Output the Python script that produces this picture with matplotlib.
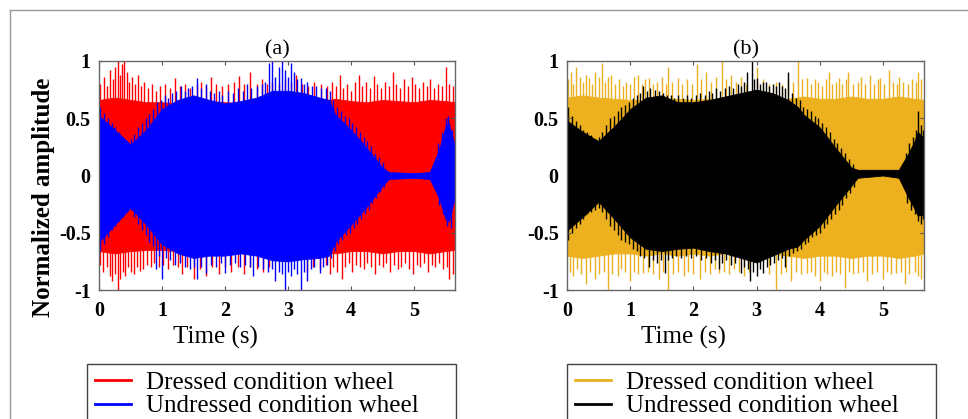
import numpy as np
import matplotlib.pyplot as plt
from matplotlib.lines import Line2D

plt.rcParams['font.family'] = ['Liberation Serif', 'DejaVu Serif']

# ---- dense core (envelope) of each signal ----
dressed_t = [0, 0.25, 0.5, 0.75, 1, 1.25, 1.5, 1.75, 2, 2.25, 2.5, 2.75, 3, 3.25,
             3.5, 3.75, 4, 4.25, 4.5, 4.75, 5, 5.25, 5.5, 5.65]
red_hi = [0.66, 0.68, 0.66, 0.64, 0.64, 0.63, 0.64, 0.65, 0.64, 0.63, 0.65, 0.65, 0.64, 0.65,
          0.65, 0.67, 0.65, 0.64, 0.66, 0.65, 0.64, 0.66, 0.65, 0.64]
red_lo = [-0.66, -0.68, -0.66, -0.65, -0.65, -0.66, -0.65, -0.66, -0.65, -0.66, -0.65, -0.66, -0.66, -0.65,
          -0.66, -0.68, -0.66, -0.66, -0.68, -0.66, -0.66, -0.68, -0.66, -0.65]
orange_hi = [0.68, 0.7, 0.68, 0.67, 0.66, 0.66, 0.67, 0.67, 0.66, 0.67, 0.67, 0.67, 0.66, 0.67,
             0.67, 0.69, 0.67, 0.67, 0.69, 0.67, 0.67, 0.69, 0.67, 0.66]
orange_lo = [-0.7, -0.72, -0.7, -0.68, -0.68, -0.7, -0.68, -0.7, -0.68, -0.7, -0.68, -0.7, -0.7, -0.68,
             -0.7, -0.72, -0.7, -0.7, -0.72, -0.7, -0.7, -0.72, -0.7, -0.68]

undressed_t = [0, 0.25, 0.5, 0.75, 1, 1.25, 1.5, 1.75, 2, 2.25, 2.5, 2.75, 3, 3.25, 3.5,
               3.65, 3.75, 4, 4.25, 4.5, 4.6, 5.0, 5.25, 5.4, 5.5, 5.55, 5.65]
blue_hi = [0.52, 0.4, 0.27, 0.4, 0.58, 0.66, 0.7, 0.66, 0.63, 0.65, 0.68, 0.74, 0.74, 0.72, 0.68,
           0.66, 0.53, 0.4, 0.24, 0.07, 0.03, 0.02, 0.03, 0.23, 0.43, 0.46, 0.25]
blue_lo = [-0.58, -0.43, -0.28, -0.43, -0.6, -0.68, -0.72, -0.7, -0.7, -0.68, -0.7, -0.74, -0.75, -0.73, -0.72,
           -0.7, -0.58, -0.43, -0.27, -0.09, -0.03, -0.02, -0.03, -0.2, -0.38, -0.4, -0.19]
black_hi = [0.48, 0.38, 0.3, 0.43, 0.58, 0.68, 0.7, 0.64, 0.64, 0.66, 0.69, 0.72, 0.75, 0.72, 0.66,
            0.6, 0.53, 0.42, 0.24, 0.07, 0.05, 0.05, 0.05, 0.19, 0.3, 0.38, 0.33]
black_lo = [-0.48, -0.36, -0.23, -0.38, -0.54, -0.64, -0.66, -0.64, -0.63, -0.66, -0.68, -0.72, -0.76, -0.7, -0.64,
            -0.62, -0.56, -0.44, -0.26, -0.09, -0.02, 0.0, -0.02, -0.19, -0.29, -0.35, -0.34]

# ---- individual peaks at the fringe of each band ----
red_up_t = [0.02, 0.08, 0.12, 0.17, 0.22, 0.26, 0.30, 0.33, 0.37, 0.40, 0.44, 0.48, 0.52, 0.57, 0.62, 0.67,
            0.72, 0.78, 0.84, 0.90, 0.97, 1.04, 1.12, 1.2, 1.28, 1.36, 1.45, 1.55, 1.62, 1.7, 1.78, 1.86,
            1.95, 2.05, 2.15, 2.22, 2.3, 2.4, 2.5, 2.58, 2.66, 2.75, 2.85, 2.95, 3.05, 3.12, 3.22, 3.32,
            3.42, 3.52, 3.62, 3.7, 3.76, 3.82, 3.88, 3.94, 4.0, 4.06, 4.12, 4.18, 4.24, 4.3, 4.36, 4.42,
            4.48, 4.54, 4.6, 4.66, 4.72, 4.78, 4.84, 4.9, 4.96, 5.02, 5.08, 5.14, 5.2, 5.26, 5.32, 5.38,
            5.44, 5.5, 5.56, 5.62]
red_up_v = [0.80, 0.86, 0.78, 0.92, 0.84, 0.95, 1.0, 0.88, 0.97, 1.0, 0.9, 0.82, 0.86, 0.8, 0.88, 0.78,
            0.82, 0.76, 0.8, 0.74, 0.78, 0.8, 0.76, 0.85, 0.78, 0.8, 0.76, 0.8, 0.82, 0.78, 0.86, 0.8,
            0.78, 0.8, 0.82, 0.87, 0.8, 0.9, 0.8, 0.84, 0.8, 0.82, 0.8, 0.84, 0.82, 0.88, 0.8, 0.78,
            0.82, 0.8, 0.78, 0.82, 0.78, 0.88, 0.76, 0.8, 0.74, 0.82, 0.88, 0.78, 0.82, 0.76, 0.87, 0.8,
            0.76, 0.82, 0.78, 0.9, 0.8, 0.76, 0.84, 0.78, 0.86, 0.8, 0.76, 0.82, 0.78, 0.84, 0.76, 0.8,
            0.78, 0.95, 0.8, 0.78]
red_dn_t = [0.02, 0.07, 0.12, 0.17, 0.21, 0.26, 0.30, 0.34, 0.38, 0.42, 0.46, 0.5, 0.55, 0.6, 0.65, 0.7,
            0.76, 0.82, 0.88, 0.95, 1.02, 1.1, 1.18, 1.26, 1.32, 1.4, 1.5, 1.6, 1.7, 1.8, 1.9, 2.0, 2.1,
            2.2, 2.3, 2.4, 2.5, 2.6, 2.7, 3.3, 3.4, 3.5, 3.6, 3.66, 3.72, 3.78, 3.85, 3.9, 3.96, 4.02,
            4.08, 4.14, 4.2, 4.26, 4.32, 4.38, 4.44, 4.5, 4.56, 4.62, 4.68, 4.74, 4.8, 4.86, 4.92, 4.98,
            5.04, 5.1, 5.16, 5.22, 5.28, 5.34, 5.4, 5.46, 5.52, 5.56, 5.62]
red_dn_v = [-0.78, -0.84, -0.8, -0.88, -0.92, -0.86, -1.0, -0.9, -0.84, -0.88, -0.8, -0.84, -0.86, -0.8, -0.83,
            -0.82, -0.78, -0.8, -0.76, -0.8, -0.78, -0.82, -0.78, -0.8, -0.86, -0.8, -0.9, -0.82, -0.88,
            -0.8, -0.86, -0.8, -0.84, -0.8, -0.86, -0.8, -0.82, -0.84, -0.8, -0.84, -0.8, -0.82, -0.78,
            -0.86, -0.8, -0.84, -0.9, -0.8, -0.76, -0.84, -0.78, -0.8, -0.82, -0.76, -0.8, -0.86, -0.78,
            -0.8, -0.76, -0.84, -0.78, -0.82, -0.8, -0.76, -0.82, -0.86, -0.78, -0.8, -0.76, -0.84, -0.78,
            -0.8, -0.76, -0.82, -0.8, -0.9, -0.86]
blue_up_t = [0.02, 0.08, 0.14, 0.2, 0.26, 0.32, 0.38, 0.44, 0.5, 0.56, 0.62, 0.68, 0.74, 0.8, 0.86, 0.92,
             0.98, 1.04, 1.1, 1.16, 1.22, 1.3, 1.36, 1.42, 1.48, 1.55, 1.62, 1.7, 1.76, 1.82, 1.9, 1.96,
             2.04, 2.12, 2.2, 2.28, 2.35, 2.42, 2.5, 2.58, 2.64, 2.7, 2.75, 2.8, 2.85, 2.9, 2.95, 3.0,
             3.05, 3.1, 3.15, 3.2, 3.25, 3.3, 3.38, 3.45, 3.52, 3.6, 3.66, 3.72, 3.78, 3.84, 3.9, 3.96,
             4.02, 4.08, 4.14, 4.2, 4.26, 4.32, 4.38, 4.44, 4.5, 5.38, 5.44, 5.5, 5.54, 5.6]
blue_up_v = [0.6, 0.55, 0.5, 0.46, 0.42, 0.38, 0.34, 0.3, 0.32, 0.36, 0.42, 0.46, 0.5, 0.54, 0.58, 0.64,
             0.66, 0.7, 0.68, 0.72, 0.74, 0.78, 0.74, 0.76, 0.78, 0.85, 0.76, 0.8, 0.74, 0.72, 0.74, 0.7,
             0.74, 0.72, 0.76, 0.74, 0.8, 0.76, 0.78, 0.8, 0.82, 0.98, 1.0, 0.86, 0.95, 1.0, 0.92, 0.86,
             0.98, 0.9, 0.84, 0.85, 0.8, 0.82, 0.78, 0.78, 0.76, 0.76, 0.74, 0.66, 0.6, 0.56, 0.52, 0.5,
             0.46, 0.42, 0.38, 0.34, 0.3, 0.26, 0.2, 0.16, 0.12, 0.28, 0.38, 0.5, 0.52, 0.4]
blue_dn_t = [0.02, 0.08, 0.14, 0.2, 0.26, 0.32, 0.38, 0.44, 0.5, 0.56, 0.62, 0.68, 0.74, 0.8, 0.86, 0.9,
             0.96, 1.0, 1.06, 1.12, 1.2, 1.28, 1.36, 1.44, 1.5, 1.55, 1.62, 1.7, 1.78, 1.86, 1.94, 2.0,
             2.08, 2.16, 2.24, 2.32, 2.4, 2.45, 2.52, 2.6, 2.68, 2.74, 2.8, 2.86, 2.9, 2.95, 3.0, 3.05,
             3.1, 3.15, 3.2, 3.25, 3.3, 3.36, 3.42, 3.5, 3.56, 3.62, 3.68, 3.74, 3.8, 3.86, 3.92, 3.98,
             4.04, 4.1, 4.16, 4.22, 4.28, 4.34, 4.4, 4.46, 4.52, 5.4, 5.46, 5.52, 5.58]
blue_dn_v = [-0.66, -0.6, -0.54, -0.48, -0.44, -0.4, -0.36, -0.32, -0.3, -0.36, -0.42, -0.48, -0.52, -0.58,
             -0.62, -0.82, -0.7, -0.9, -0.72, -0.74, -0.78, -0.76, -0.8, -0.82, -0.8, -0.9, -0.8, -0.85,
             -0.78, -0.8, -0.76, -0.85, -0.78, -0.76, -0.8, -0.78, -0.8, -0.88, -0.8, -0.82, -0.84, -0.82,
             -0.92, -0.84, -0.86, -1.0, -0.84, -0.88, -0.82, -0.86, -1.0, -0.84, -0.92, -0.82, -0.8, -0.85,
             -0.8, -0.78, -0.72, -0.66, -0.6, -0.56, -0.52, -0.5, -0.46, -0.42, -0.38, -0.34, -0.3, -0.24,
             -0.2, -0.14, -0.1, -0.26, -0.34, -0.44, -0.46]

orange_up_t = [0.02, 0.06, 0.1, 0.15, 0.2, 0.25, 0.3, 0.35, 0.4, 0.45, 0.5, 0.55, 0.6, 0.65, 0.7, 0.76,
               0.82, 0.88, 0.94, 1.0, 1.06, 1.12, 1.18, 1.24, 1.3, 1.36, 1.42, 1.5, 1.56, 1.6, 1.66, 1.75,
               1.82, 1.9, 1.98, 2.05, 2.12, 2.2, 2.28, 2.36, 2.45, 2.52, 2.6, 2.68, 2.76, 2.84, 3.0, 3.1,
               3.2, 3.3, 3.4, 3.5, 3.58, 3.65, 3.72, 3.8, 3.86, 3.92, 3.98, 4.04, 4.1, 4.15, 4.2, 4.26,
               4.3, 4.36, 4.42, 4.45, 4.52, 4.6, 4.66, 4.72, 4.8, 4.86, 4.92, 4.95, 5.02, 5.1, 5.16, 5.22,
               5.25, 5.32, 5.4, 5.46, 5.52, 5.55, 5.6]
orange_up_v = [0.84, 0.9, 0.8, 0.95, 0.86, 0.82, 0.88, 0.85, 0.8, 0.9, 0.86, 0.98, 0.82, 0.86, 0.88, 0.8,
               0.84, 0.78, 0.82, 0.8, 0.86, 0.88, 0.8, 0.84, 0.85, 0.8, 0.82, 0.86, 0.8, 0.95, 0.82, 0.85,
               0.8, 0.84, 0.8, 0.97, 0.84, 0.9, 0.82, 0.86, 1.0, 0.84, 0.88, 0.82, 0.86, 0.8, 0.95, 0.84,
               0.8, 0.82, 0.8, 0.85, 0.82, 1.0, 0.84, 0.85, 0.8, 0.84, 0.82, 0.78, 0.84, 0.9, 0.8, 0.82,
               0.85, 0.8, 0.84, 0.9, 0.8, 0.82, 0.86, 0.8, 0.88, 0.8, 0.84, 0.85, 0.8, 0.92, 0.82, 0.8,
               0.86, 0.82, 0.8, 0.84, 0.82, 0.9, 0.84]
orange_dn_t = [0.04, 0.1, 0.16, 0.22, 0.3, 0.36, 0.45, 0.5, 0.58, 0.65, 0.72, 0.8, 0.86, 0.92, 1.0, 1.06,
               1.12, 1.2, 1.28, 1.36, 1.45, 1.52, 1.6, 1.68, 1.75, 1.85, 1.92, 2.0, 2.1, 2.18, 2.26, 2.34,
               2.4, 2.48, 2.56, 2.64, 2.72, 2.8, 2.88, 3.2, 3.3, 3.38, 3.46, 3.55, 3.62, 3.7, 3.8, 3.86,
               3.92, 4.0, 4.06, 4.12, 4.2, 4.26, 4.32, 4.4, 4.46, 4.52, 4.6, 4.68, 4.75, 4.82, 4.9, 5.0,
               5.06, 5.12, 5.2, 5.28, 5.35, 5.42, 5.5, 5.56, 5.6]
orange_dn_v = [-0.84, -0.88, -0.82, -0.86, -0.95, -0.84, -0.9, -0.86, -0.84, -1.0, -0.86, -0.88, -0.82, -0.84,
               -0.92, -0.84, -0.86, -0.85, -0.84, -0.86, -0.9, -0.84, -1.0, -0.86, -0.84, -0.88, -0.84, -0.86,
               -0.9, -0.84, -0.86, -0.82, -0.85, -0.84, -0.86, -0.82, -0.84, -0.88, -0.84, -0.86, -1.0, -0.86,
               -0.84, -0.92, -0.84, -0.86, -0.85, -0.84, -0.88, -0.92, -0.84, -0.86, -0.88, -0.84, -0.86, -0.98,
               -0.84, -0.86, -0.85, -0.84, -0.92, -0.86, -0.84, -0.9, -0.84, -0.86, -0.85, -0.84, -0.95, -0.86,
               -0.84, -0.88, -0.9]
black_up_t = [0.02, 0.08, 0.14, 0.2, 0.26, 0.32, 0.38, 0.44, 0.5, 0.56, 0.62, 0.68, 0.74, 0.8, 0.86, 0.92,
              0.98, 1.04, 1.1, 1.16, 1.2, 1.26, 1.32, 1.4, 1.46, 1.52, 1.58, 1.64, 1.7, 1.76, 1.84, 1.9,
              1.96, 2.04, 2.1, 2.18, 2.24, 2.3, 2.36, 2.42, 2.5, 2.56, 2.62, 2.7, 2.76, 2.8, 2.85, 2.92,
              2.96, 3.0, 3.06, 3.1, 3.15, 3.2, 3.26, 3.3, 3.35, 3.4, 3.45, 3.5, 3.56, 3.62, 3.68, 3.74,
              3.8, 3.86, 3.92, 3.98, 4.04, 4.1, 4.16, 4.22, 4.28, 4.34, 4.4, 4.46, 4.52, 5.36, 5.42, 5.48,
              5.52, 5.55, 5.6, 5.64]
black_up_v = [0.6, 0.52, 0.48, 0.44, 0.4, 0.38, 0.35, 0.32, 0.34, 0.38, 0.44, 0.5, 0.52, 0.56, 0.6, 0.62,
              0.64, 0.68, 0.7, 0.72, 0.78, 0.74, 0.76, 0.75, 0.74, 0.72, 0.7, 0.7, 0.68, 0.7, 0.68, 0.7,
              0.68, 0.7, 0.72, 0.7, 0.74, 0.72, 0.76, 0.74, 0.76, 0.78, 0.76, 0.8, 0.78, 0.82, 0.9, 1.0,
              0.84, 0.85, 0.8, 0.82, 0.82, 0.78, 0.8, 0.78, 0.82, 0.78, 0.76, 0.9, 0.72, 0.68, 0.66, 0.6,
              0.58, 0.56, 0.52, 0.5, 0.46, 0.42, 0.38, 0.32, 0.28, 0.24, 0.2, 0.14, 0.1, 0.2, 0.28, 0.34,
              0.4, 0.56, 0.44, 0.4]
black_dn_t = [0.02, 0.08, 0.14, 0.2, 0.26, 0.32, 0.38, 0.44, 0.5, 0.56, 0.62, 0.68, 0.74, 0.8, 0.86, 0.92,
              0.98, 1.04, 1.1, 1.16, 1.22, 1.3, 1.36, 1.42, 1.48, 1.55, 1.6, 1.66, 1.72, 1.8, 1.88, 1.96,
              2.04, 2.12, 2.2, 2.28, 2.34, 2.4, 2.46, 2.52, 2.6, 2.66, 2.75, 2.8, 2.86, 2.9, 2.95, 3.0,
              3.05, 3.1, 3.16, 3.22, 3.28, 3.34, 3.4, 3.45, 3.52, 3.58, 3.64, 3.7, 3.76, 3.82, 3.88, 3.94,
              4.0, 4.06, 4.12, 4.18, 4.24, 4.3, 4.36, 4.42, 4.48, 4.54, 5.38, 5.44, 5.5, 5.56, 5.6, 5.64]
black_dn_v = [-0.56, -0.5, -0.46, -0.42, -0.38, -0.34, -0.32, -0.3, -0.28, -0.32, -0.38, -0.44, -0.48, -0.52,
              -0.56, -0.58, -0.6, -0.64, -0.66, -0.7, -0.72, -0.8, -0.74, -0.76, -0.74, -0.85, -0.74, -0.72,
              -0.7, -0.72, -0.7, -0.72, -0.7, -0.74, -0.72, -0.76, -0.74, -0.82, -0.76, -0.74, -0.78, -0.76,
              -0.85, -0.8, -0.82, -0.92, -0.84, -0.88, -0.82, -0.85, -0.8, -0.78, -0.76, -0.74, -0.72, -0.8,
              -0.7, -0.68, -0.66, -0.64, -0.6, -0.58, -0.54, -0.52, -0.5, -0.46, -0.42, -0.38, -0.34, -0.3,
              -0.26, -0.2, -0.15, -0.1, -0.24, -0.3, -0.34, -0.4, -0.42, -0.38]

RED, BLUE, ORANGE, BLACK = '#ff0000', '#0000ff', '#edb120', '#000000'
labels = ['Dressed condition wheel', 'Undressed condition wheel']


def draw_signal(ax, t, lo, hi, up_t, up_v, dn_t, dn_v, color, z):
    # spikes first, then the dense core on top of them, same layer for one signal
    ax.vlines(up_t, 0, up_v, color=color, lw=1.0, zorder=z)
    ax.vlines(dn_t, dn_v, 0, color=color, lw=1.0, zorder=z)
    ax.fill_between(t, lo, hi, color=color, lw=0.6, edgecolor=color, zorder=z + 0.1)


fig = plt.figure(figsize=(9.68, 4.19), dpi=100)
ax1 = fig.add_axes([99 / 968, 1 - 290 / 419, 356 / 968, 229 / 419])
ax2 = fig.add_axes([567 / 968, 1 - 290 / 419, 357 / 968, 229 / 419])

draw_signal(ax1, dressed_t, red_lo, red_hi, red_up_t, red_up_v, red_dn_t, red_dn_v, RED, 1)
draw_signal(ax1, undressed_t, blue_lo, blue_hi, blue_up_t, blue_up_v, blue_dn_t, blue_dn_v, BLUE, 1.5)
draw_signal(ax2, dressed_t, orange_lo, orange_hi, orange_up_t, orange_up_v, orange_dn_t, orange_dn_v, ORANGE, 1)
draw_signal(ax2, undressed_t, black_lo, black_hi, black_up_t, black_up_v, black_dn_t, black_dn_v, BLACK, 1.5)

legend_x = [(87, 456), (567, 936)]
for ax, title, cols, lx in [(ax1, '(a)', (RED, BLUE), legend_x[0]), (ax2, '(b)', (ORANGE, BLACK), legend_x[1])]:
    ax.set_xlim(0, 5.65)
    ax.set_ylim(-1, 1)
    ax.set_xticks([0, 1, 2, 3, 4, 5])
    ax.set_yticks([-1, -0.5, 0, 0.5, 1])
    ax.set_yticklabels(['-1', '-0.5', '0', '0.5', '1'])
    ax.tick_params(direction='in', length=3, width=0.8, top=True, right=True,
                   labelsize=14.5, color='#555555')
    ax.tick_params(axis='x', pad=8)
    ax.tick_params(axis='y', pad=6)
    for lab in ax.get_xticklabels() + ax.get_yticklabels():
        lab.set_fontweight('bold')
    for sp in ax.spines.values():
        sp.set_color('#666666')
        sp.set_linewidth(1.0)
        sp.set_zorder(3)
    ax.set_title(title, fontsize=16, pad=5)
    ax.set_xlabel('Time (s)', fontsize=18)
    ax.xaxis.set_label_coords(0.326, -0.155)
    handles = [Line2D([], [], color=c, lw=2) for c in cols]
    ax.legend(handles, labels, loc='upper left', mode='expand', fontsize=18, frameon=True,
              fancybox=False, edgecolor='#444444', framealpha=1, handlelength=1.45, borderpad=0.3,
              borderaxespad=0, labelspacing=0.05, handletextpad=0.6,
              bbox_to_anchor=(lx[0] / 968, 1 - 364 / 419, (lx[1] - lx[0]) / 968, 0.001),
              bbox_transform=fig.transFigure)

fig.text(44 / 968, 1 - 197 / 419, 'Normalized amplitude', rotation=90, ha='center', va='center',
         fontsize=18, fontweight='bold')

# outer frame of the figure panel
fig.add_artist(Line2D([10 / 968, 10 / 968], [0, 1 - 10 / 419], color='#999999', lw=1))
fig.add_artist(Line2D([10 / 968, 1], [1 - 10 / 419, 1 - 10 / 419], color='#999999', lw=1))

fig.savefig('out.png', dpi=100)
